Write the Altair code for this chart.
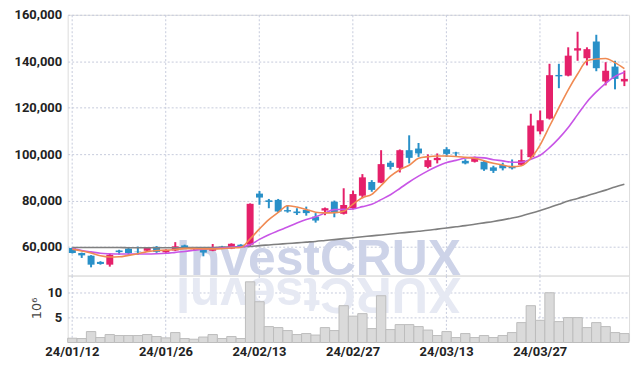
import altair as alt
import pandas as pd

dates = ["24/01/12","24/01/15","24/01/16","24/01/17","24/01/18","24/01/19","24/01/22","24/01/23","24/01/24","24/01/25",
         "24/01/26","24/01/29","24/01/30","24/01/31","24/02/01","24/02/02","24/02/05","24/02/06","24/02/07","24/02/08",
         "24/02/13","24/02/14","24/02/15","24/02/16","24/02/19","24/02/20","24/02/21","24/02/22","24/02/23","24/02/26",
         "24/02/27","24/02/28","24/02/29","24/03/04","24/03/05","24/03/06","24/03/07","24/03/08","24/03/11","24/03/12",
         "24/03/13","24/03/14","24/03/15","24/03/18","24/03/19","24/03/20","24/03/21","24/03/22","24/03/25","24/03/26",
         "24/03/27","24/03/28","24/03/29","24/04/01","24/04/02","24/04/03","24/04/04","24/04/05","24/04/08","24/04/09"]

opens = [59570,57430,56270,53600,52400,58500,59300,58000,58400,60100,
         57700,58500,60700,59000,59000,58400,60200,59300,61000,61000,
         83000,80100,80300,75900,75300,76000,73100,75700,79500,74300,
         76700,82100,88000,87700,96300,94100,101700,102400,94500,97400,
         102100,100700,97100,96700,96700,94300,95300,94900,95400,98700,
         109800,115300,134100,133800,144600,141300,148500,131300,137700,131300]
highs = [59800,57600,56500,53900,57000,58800,59800,60200,59800,60400,
         59000,62100,61000,60000,59500,61300,60500,61600,61200,78800,
         84100,80700,80700,78100,76700,77400,74600,77000,80000,85300,
         84300,91400,88800,101700,97100,102000,108100,104800,99900,100300,
         103000,101000,97800,98900,97400,95000,96300,97700,102000,117400,
         118800,138900,138900,146000,152700,146000,151400,139600,140200,136000]
lows = [57200,55300,51250,52400,51550,56700,56700,56700,58200,57500,
        57500,58300,59600,58800,56000,58200,59400,59100,59800,60300,
        78200,76700,74800,74800,73800,73500,70500,73700,72800,74000,
        76200,81000,83800,87500,93400,92100,96000,98800,93900,96000,
        98800,98800,95600,96400,92800,91900,93000,93400,95000,98000,
        108500,114900,128400,133500,140200,138200,135700,129600,127900,129300]
closes = [57430,56400,52400,52700,56700,57800,57400,57800,59600,57900,
          58800,60300,59800,59800,57600,59600,59600,61400,60000,78600,
          81300,79400,75300,75300,74600,74600,71400,76700,74600,78100,
          82800,90000,84600,95700,94500,101700,98400,100300,97400,98400,
          100100,100300,96000,98600,93400,92800,93900,93900,97400,112300,
          114600,134000,133500,142400,145600,145200,137000,135900,132400,132400]
volumes = [0.86,0.8,2.2,1.0,1.6,1.4,1.4,1.4,1.6,1.2,
           0.93,2.0,0.8,0.66,1.1,1.6,0.8,1.2,0.8,12.2,
           8.2,3.2,3.0,2.4,1.6,1.8,1.5,3.0,2.4,7.4,
           5.3,5.8,2.8,9.4,2.6,3.6,3.6,3.2,2.5,1.4,
           2.2,1.0,1.8,1.0,1.4,1.0,1.4,2.0,4.0,7.4,
           4.46,10.0,4.2,5.0,5.0,3.0,4.0,3.2,2.0,1.8]
ma5 = [59100,58300,57400,56200,55700,55800,56400,57100,58000,58500,
       58600,58900,59300,59300,59200,59200,59300,59600,59800,63500,
       67800,71800,74900,77800,77200,76200,75000,74700,74800,75400,
       78500,81200,82700,86500,90500,93300,95200,98200,98900,99200,
       99200,99000,98600,98200,97100,96100,95300,94600,95000,98200,
       104000,112000,120000,127700,134500,140200,141000,141200,139400,136800]
ma10 = [59300,58500,57900,57300,57100,57000,57000,57000,57000,57100,
        57300,57700,58100,58600,59100,59300,59600,59900,60000,61000,
        63300,65300,67000,68600,70300,71800,73000,74600,76100,76200,
        76400,77400,78400,80400,82500,85200,88000,90500,92800,94800,
        96400,97300,98300,98600,98400,97600,97100,96500,96500,97800,
        99500,102800,106800,111500,117000,122500,126800,130500,133500,135300]
ma_long = [59800,59800,59800,59800,59800,59800,59700,59700,59700,59700,
           59700,59700,59700,59800,59800,59800,59900,60000,60100,60200,
           60600,60900,61200,61500,61800,62100,62400,62800,63200,63600,
           64000,64400,64800,65200,65600,66000,66400,66800,67200,67700,
           68200,68700,69200,69800,70400,71000,71700,72500,73400,74500,
           75700,77000,78400,79800,80900,82100,83300,84500,85800,87000]

price_ticks = [60000, 80000, 100000, 120000, 140000, 160000]
vol_ticks = [5, 10]
x_label_dates = ["24/01/12", "24/01/26", "24/02/13", "24/02/27", "24/03/13", "24/03/27"]
watermark = "InvestCRUX"

UP, DOWN = "#e5206a", "#2990c8"
LABEL_FONT = "Roboto"
GRID = dict(grid=True, gridColor="#c6cbdc", gridDash=[2, 2], gridWidth=1)
LBL = dict(labelFont=LABEL_FONT, labelFontWeight="bold", labelFontSize=13, labelColor="#222")

df = pd.DataFrame({"date": dates, "open": opens, "high": highs, "low": lows,
                   "close": closes, "vol": volumes, "ma5": ma5, "ma10": ma10, "malong": ma_long})
df["dir"] = ["up" if c >= o else "down" for o, c in zip(opens, closes)]

W, HP, HV = 564, 262, 65

xs = alt.Scale(type="band", domain=dates, paddingInner=0, paddingOuter=0)
x_price_axis = alt.Axis(values=x_label_dates, labels=False, ticks=False, domain=False, title=None, **GRID)
x_vol_axis = alt.Axis(values=x_label_dates, ticks=False, domain=False, title=None, labelAngle=0,
                      labelPadding=5, **LBL, **GRID)

ys = alt.Scale(domain=[47700, 160000], nice=False, zero=False)
y_axis = alt.Axis(values=price_ticks, format=",d", title=None, ticks=False, domain=False, labelPadding=6,
                  **LBL, **GRID)

base = alt.Chart(df)
X = alt.X("date:O", scale=xs, axis=x_price_axis)
COLOR = alt.Color("dir:N", scale=alt.Scale(domain=["up", "down"], range=[UP, DOWN]), legend=None)

WM_FONT, WM_SIZE = "Liberation Sans", 50
wm = alt.Chart(pd.DataFrame({"t": [watermark]})).mark_text(
    font=WM_FONT, fontWeight="bold", fontSize=WM_SIZE, color="#cdd3e8",
    align="center", baseline="alphabetic").encode(text="t:N", x=alt.value(252), y=alt.value(261))

wick = base.mark_rule(strokeWidth=2).encode(
    x=X, y=alt.Y("low:Q", scale=ys, axis=y_axis), y2="high:Q", color=COLOR)
body = base.mark_bar(width=7).encode(
    x=X, y=alt.Y("open:Q", scale=ys, axis=y_axis), y2="close:Q", color=COLOR)

def ma_line(field, color):
    return base.mark_line(color=color, strokeWidth=1.6, interpolate="monotone").encode(
        x=X, y=alt.Y(f"{field}:Q", scale=ys, axis=y_axis))

price = alt.layer(wm, wick, body, ma_line("malong", "#7f7f7f"), ma_line("ma10", "#c855e6"),
                  ma_line("ma5", "#f08a52")).properties(width=W, height=HP)

# faint mirrored watermark (per character, flipped) in the volume panel
widths = {"I": .278, "n": .611, "v": .556, "e": .556, "s": .556, "t": .333, "C": .722, "R": .722, "U": .722, "X": .667}
tot = sum(widths[c] for c in watermark) * WM_SIZE
cx, pos = 252 - tot / 2, []
for c in watermark:
    w = widths[c] * WM_SIZE
    pos.append(cx + w / 2)
    cx += w
refl = alt.Chart(pd.DataFrame({"c": list(watermark), "px": pos})).mark_text(
    font=WM_FONT, fontWeight="bold", fontSize=WM_SIZE, color="#e6e9f3", angle=180,
    align="center", baseline="alphabetic").encode(
    text="c:N", x=alt.X("px:Q", scale=None), y=alt.value(2))

vol = alt.layer(
    refl,
    base.mark_bar(fill="#dadada", stroke="#bcbcbc", strokeWidth=1).encode(
        x=alt.X("date:O", scale=xs, axis=x_vol_axis),
        y=alt.Y("vol:Q", scale=alt.Scale(domain=[0.45, 13.45], nice=False, zero=False),
                axis=alt.Axis(values=vol_ticks, title="10⁶", titleFont="DejaVu Sans", titleFontWeight="normal",
                              titleFontSize=13, titleColor="#444", titlePadding=3, ticks=False, domain=False,
                              labelPadding=6, **LBL, **GRID)))
).properties(width=W, height=HV)

chart = alt.vconcat(price, vol, spacing=0, bounds="flush").resolve_scale(x="shared").properties(
    padding={"left": 13, "top": 7, "right": 9, "bottom": 11}
).configure_view(stroke="#cccccc", strokeWidth=1).configure(background="white")

chart.save("out.html", embed_options={"renderer": "svg", "actions": False})
